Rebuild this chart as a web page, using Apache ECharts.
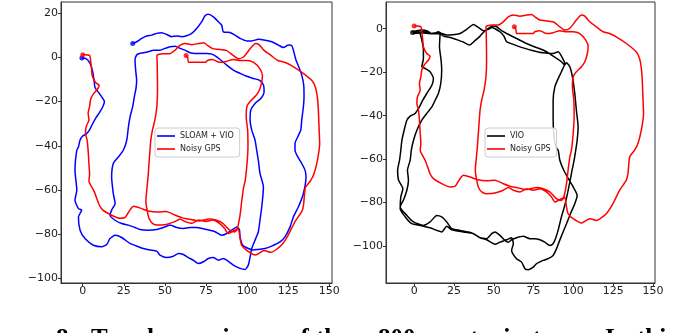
<!DOCTYPE html>
<html>
<head>
<meta charset="utf-8">
<script src="https://cdn.jsdelivr.net/npm/echarts@6/dist/echarts.min.js"></script>
<style>
  html, body { margin: 0; padding: 0; background: #fff; }
  #chart { width: 699px; height: 333px; }
</style>
</head>
<body>
<div id="chart"></div>
<script>
// Noisy GPS track (metres), shared by both panels
const gpsTrack = [
  [0,1.2],[1.7,1.2],[4.2,0.9],[4.8,-1.4],[5.4,-5.2],[5.8,-8.3],[7.9,-11.4],[10,-12.6],[9,-14.4],[6.3,-16.7],
  [4.8,-19],[4.2,-22.1],[3.3,-25.2],[3.8,-28.3],[2.1,-31.3],[1.7,-34.4],[2.7,-37.5],[3.3,-42.1],[3.8,-48.2],[4.2,-52.8],
  [3.8,-55.9],[6.9,-60.5],[10,-66.7],[12.1,-69],[17.3,-71.3],[22.6,-72.8],[25.7,-72.5],[28.8,-69],[30.9,-67.4],[35.1,-68.2],
  [39.3,-69.4],[45.5,-70],[50.8,-69.7],[56,-71.3],[60.2,-72.5],[64.3,-73.1],[70.6,-74],[76.9,-73.1],[81,-73.6],[85.2,-75.1],
  [89.4,-78.2],[92.5,-79],[94.6,-77.4],[95.7,-82],[96.7,-85.1],[99.9,-87.4],[105.1,-89.4],[110.3,-87.4],[114.5,-88.2],[120.7,-85.1],
  [124.9,-80.5],[129.1,-74.3],[133.3,-69.7],[134.3,-66.7],[135.4,-59],[138.5,-55.9],[140.6,-52.8],[142.7,-46.7],[144.1,-39],[143.7,-31.3],
  [143.3,-23.7],[142.7,-18],[141.6,-13.7],[139.5,-10.6],[133.3,-6.8],[127,-3.7],[122.8,-2.2],[118.7,-1.4],[114.5,0.9],[110.3,3.2],
  [107.2,5.8],[105.1,6.3],[101.9,4],[97.8,0.2],[94.6,-0.6],[91.5,0.9],[87.3,3.2],[82.1,3.7],[79,4],[75.8,5.5],
  [73.7,6.6],[70.6,6.3],[66.4,5.8],[62.3,6.3],[59.1,5.5],[56,3.2],[52.9,1.7],[48.7,1.7],[45.1,0.9],[45.3,-3],
  [45.5,-14.4],[45.1,-22.1],[43.9,-28.3],[42.4,-32.9],[41.4,-37.5],[40.9,-42.1],[40.3,-48.2],[39.7,-54.4],[38.9,-60.5],[38.4,-65.1],
  [39.3,-69.7],[40.3,-72.8],[42.4,-75.1],[45.5,-75.9],[50.8,-75.6],[56,-74.3],[59.1,-73.1],[62.3,-74.3],[66.4,-75.1],[70.6,-73.6],
  [74.8,-74.3],[79,-73.6],[83.1,-75.1],[86.3,-77.4],[88.4,-79.7],[91.5,-78.6],[94,-77.4],[95.7,-71.3],[96.7,-65.1],[97.8,-59],
  [98.8,-55.9],[99.9,-48.2],[100.5,-40.6],[100.3,-32.9],[99.4,-26.7],[99.9,-22.1],[101.9,-19.8],[105.1,-17.5],[107.2,-15.2],[108.6,-12.1],
  [109.3,-8.3],[107.8,-5.2],[104,-2.2],[99.9,-1.4],[95.7,-1.4],[91.5,-0.9],[87.3,-1.8],[83.1,-2.2],[79,-0.9],[75.8,-1.4],
  [74.8,-2.2],[70.6,-2.2],[66.4,-2.2],[64.3,-2.2],[63.9,-0.3],[62.9,0.9]
];

// SLOAM + VIO estimate (left panel)
const sloamTrack = [
  [-0.5,-0.3],[2,-0.5],[4.5,-2.7],[6.1,-6.5],[6.9,-10.3],[7.5,-13.6],[10.1,-16.3],[12.6,-19],[13.2,-20.1],[12.2,-22.3],
  [10.1,-25.1],[8.1,-27.2],[6.1,-29.9],[4.1,-32.9],[2,-34.7],[0,-35.6],[-1.6,-37.4],[-2.6,-40.5],[-3.6,-42],[-4.7,-51],
  [-3.6,-60.1],[-4.7,-64.6],[-2.6,-68.4],[-0.6,-69.1],[-2.6,-72.2],[-1.6,-78.2],[1.4,-82],[6.5,-85],[11.6,-85.7],[14.6,-84.7],
  [16.6,-82],[19.7,-80.5],[23.7,-81.5],[28.8,-84.2],[33.9,-85.7],[36.9,-86.5],[40.9,-87.2],[45,-87.7],[47,-89.5],[51.1,-90.6],
  [55.1,-90],[58.2,-88.8],[61.2,-89.2],[64.3,-90.6],[67.3,-91.8],[70.3,-93.3],[73.4,-92.5],[76.4,-91],[79.5,-90.6],[82.5,-91.8],
  [85.5,-91],[87.6,-91.8],[91.6,-94],[95.7,-95.5],[98.7,-96],[100.7,-94],[101.8,-90.3],[102.8,-86.5],[104.8,-82.7],[106.8,-78.9],
  [107.8,-73.7],[108.9,-67.6],[109.9,-58.6],[107.8,-52.5],[106.8,-46.5],[105.8,-42],[104.8,-37.4],[102.8,-32.9],[101.8,-28.4],[102.2,-23.8],
  [104.8,-20.8],[108.3,-18.6],[110.3,-15.5],[109.9,-12.5],[107.4,-10.3],[103.8,-9.5],[99.7,-8.5],[95.7,-7.2],[91.6,-5.7],[87.6,-3.5],
  [84.5,-1.5],[81.5,0.3],[78.5,1.5],[75.4,1.8],[71.4,1.8],[68.3,1.8],[65.3,2.1],[62.2,3.3],[59.2,4.1],[56.2,5.1],
  [53.1,4.8],[50.1,4.1],[47,3.3],[43,3.3],[39.9,2.6],[36.9,2.1],[34.5,1.8],[32.8,1.1],[31.8,-1.2],[32.2,-5.7],
  [32.8,-10.3],[32.4,-14],[31.4,-17.8],[30.4,-22.3],[28.8,-26.9],[27.8,-31.4],[26.8,-37.4],[24.7,-42],[21.7,-45],[18.6,-48],
  [17.6,-54],[18.6,-61.6],[19.7,-66.1],[17.6,-69.1],[16.6,-71.4],[19.7,-73.7],[23.7,-75.2],[27.8,-75.9],[31.8,-77],[34.9,-77.9],
  [39.9,-78.2],[45,-77.9],[49.1,-77],[53.1,-75.9],[57.2,-77],[61.2,-77.4],[65.3,-77],[69.3,-77],[75.4,-77.9],[80.5,-78.9],
  [84.5,-80.5],[87.6,-79.7],[90.6,-78.2],[93.7,-76.7],[95.3,-77.9],[95.7,-81.2],[97.3,-85],[100.7,-86.5],[103.8,-87.2],[106.8,-86.9],
  [110.9,-86.5],[114.9,-85.4],[120,-83.5],[123,-81.2],[126.1,-76.7],[128.1,-72.2],[131.2,-67.6],[134.2,-61.6],[135.8,-54],[135.2,-51],
  [133.2,-48],[130.8,-45],[129.1,-42],[129.1,-38.9],[130.8,-35.9],[132.6,-32.9],[133.2,-28.4],[134.2,-22.3],[134.6,-17.8],[134.4,-12.5],
  [133.2,-8],[131.8,-5],[129.7,-1.2],[128.1,3.3],[127.1,5.4],[125.1,5.6],[122,4.5],[119,5.6],[114.9,7.1],[110.9,7.8],
  [106.8,8.2],[102.8,7.5],[99.7,7.5],[95.7,8.6],[92.6,10.1],[89.6,11.3],[85.5,11.6],[84.5,14.6],[81.9,16.6],[79.5,18.4],
  [76.4,19.5],[74.4,18.9],[72.4,16.2],[69.3,13.1],[66.3,10.9],[63.2,9.8],[60.2,9.4],[57.2,9.7],[54.1,9.4],[51.1,10.4],
  [48,11.2],[45,10.9],[42,10.1],[38.9,9.7],[35.9,8.6],[32.8,7.1],[30.4,6.3]
];

// VIO-only estimate (right panel), two laps
const vioTrack = [
  [-1,-1.7],[5.8,-1.4],[12.1,-2.2],[15.2,-1.4],[17.3,-2.2],[20.5,-2.9],[25.7,-2.6],[28.8,-2.2],[33,-0.3],[37.2,2],
  [40.3,0.6],[43.5,-0.9],[46.6,-0.3],[48.7,0.6],[50.8,0],[53.9,-1.4],[56.4,-3.4],[58.1,-6],[62.3,-7.2],[68.5,-8.8],
  [74.8,-10.1],[81.1,-11.1],[87.3,-11.4],[90.5,-10.6],[92.5,-12.6],[94.6,-16],[92.5,-19.8],[90.5,-22.9],[88.4,-26.7],[87.3,-32.9],
  [87.3,-40.6],[87.7,-48.2],[89,-54.4],[90.5,-55.9],[91.5,-60.5],[94,-65.1],[97.4,-69.7],[99.9,-72.8],[102.4,-76.7],[100.9,-80.5],
  [98.2,-85.1],[95.7,-89.7],[93.1,-94.3],[91,-98.2],[89.4,-101.3],[87.3,-104.3],[84.2,-105.8],[81.1,-106.6],[76.9,-108.1],[74.8,-109.7],
  [71.7,-110.9],[69.6,-110.4],[67.5,-107.4],[64.3,-105.8],[61.2,-102],[62.3,-98.9],[61.2,-96.2],[58.1,-97.1],[53.9,-98.2],[50.8,-99.2],
  [45.5,-97.1],[41.4,-96.2],[37.2,-94.3],[30.9,-93.5],[23.6,-92.5],[20.5,-90.9],[17.3,-93.5],[14.2,-92.8],[10,-91.6],[3.8,-90.5],
  [-1.5,-89.7],[-5.6,-86.6],[-8.8,-82.8],[-8.4,-77.4],[-7.1,-73.6],[-9.8,-69.7],[-10.4,-65.1],[-9.2,-60.5],[-8.4,-55.9],[-7.7,-51.3],
  [-6.3,-46.7],[-4.6,-42.1],[-2.5,-40.2],[0.6,-39],[3.3,-36],[5.4,-32.9],[7.9,-29.8],[11.1,-26],[12.1,-22.9],[10,-19.8],
  [6.9,-18.3],[4.8,-17.5],[5.8,-13.7],[5.8,-9.8],[4.8,-5.2],[3.3,-1.8],[-1,-1.4],[4.8,-0.6],[7.9,-0.9],[11.1,-2.2],
  [14.2,-1.8],[16.3,-2.2],[18.4,-3.4],[22.6,-4],[26.3,-4.9],[30.5,-6],[34.7,-7.5],[38.2,-5.5],[41.4,-3.4],[43.9,-1.4],
  [46.6,0.2],[49.7,1.2],[51.8,0.9],[54.9,-0.9],[58.1,-2.2],[64.3,-4.5],[72.7,-7.5],[81.1,-9.8],[87.3,-12.6],[92.5,-15.2],
  [94.6,-16.7],[95.7,-15.7],[97.8,-17.5],[99.4,-22.1],[100.9,-29.8],[101.9,-37.5],[103,-45.2],[102.4,-51.3],[101.5,-55.9],[100.5,-60.5],
  [99.2,-65.1],[97.8,-70.5],[96.3,-75.9],[94.6,-81.3],[92.5,-86.6],[90.7,-92],[89,-96.2],[87.3,-98.9],[85.2,-99.7],[82.1,-98.2],
  [79,-97.1],[75.8,-96.6],[72.7,-96.6],[68.5,-95.5],[64.3,-96.2],[61.2,-97.1],[59.1,-98.2],[57,-97.4],[53.9,-95.1],[50.8,-93.5],
  [48.7,-94.3],[45.5,-96.6],[41.4,-96.2],[37.2,-94.3],[34,-93.5],[28.8,-92.8],[23.6,-92],[20.5,-88.9],[17.3,-86.6],[14.2,-85.9],
  [10,-88.9],[5.8,-90.5],[-0.4,-88.9],[-4.6,-85.9],[-8.8,-82],[-6.7,-78.8],[-4.6,-74.3],[-3.6,-69.7],[-4.2,-65.1],[-2.5,-60.5],
  [-1.8,-55.9],[-0.4,-51.3],[1.7,-46.7],[4.8,-42.1],[7.9,-39],[11.1,-36],[13.2,-32.9],[15.2,-29.8],[16.7,-25.2],[17.3,-19],
  [16.9,-14.4],[15.9,-8.3],[16.3,-2.2],[12,-2.3],[6,-2],[-0.8,-2.2]
];

// Axis tick positions
const xTicks = [0, 25, 50, 75, 100, 125, 150];
const leftYTicks = [-100, -80, -60, -40, -20, 0, 20];
const rightYTicks = [-100, -80, -60, -40, -20, 0];

// Caption words with their left edges (justified line)
const captionWords = ['8.', 'Top-down', 'view', 'of', 'the', '800', 'm', 'trajectory.', 'In', 'this'];
const captionX = [56, 91, 210, 288, 316, 378, 425, 470, 605, 637];

const BLUE = '#0000ff', RED = '#ff0000', BLACK = '#000000';
const fmt = v => (v < 0 ? '\u2212' + Math.abs(v) : String(v));

function xAxisCfg(grid, min, max) {
  return {
    gridIndex: grid, type: 'value', min: min, max: max,
    axisLine: { show: true, onZero: false, lineStyle: { color: '#333', width: 1 } },
    axisTick: { show: true, customValues: xTicks, length: 3, lineStyle: { color: '#333' } },
    axisLabel: { customValues: xTicks, margin: 3, fontSize: 11, color: '#222', fontFamily: 'DejaVu Sans', formatter: fmt },
    splitLine: { show: false }
  };
}
function yAxisCfg(grid, min, max, ticks) {
  return {
    gridIndex: grid, type: 'value', min: min, max: max,
    axisLine: { show: true, onZero: false, lineStyle: { color: '#333', width: 1 } },
    axisTick: { show: true, customValues: ticks, length: 3, lineStyle: { color: '#333' } },
    axisLabel: { customValues: ticks, margin: 3, fontSize: 11, color: '#222', fontFamily: 'DejaVu Sans', formatter: fmt },
    splitLine: { show: false }
  };
}
function track(name, data, color, xi) {
  return {
    type: 'line', name: name, data: data, xAxisIndex: xi, yAxisIndex: xi,
    symbol: 'none', smooth: 0.2, lineStyle: { color: color, width: 1.5 },
    itemStyle: { color: color }, silent: true
  };
}
function ends(name, pts, color, xi) {
  return {
    type: 'scatter', name: name, data: pts, xAxisIndex: xi, yAxisIndex: xi,
    symbol: 'circle', symbolSize: 5, itemStyle: { color: color }, z: 5, silent: true
  };
}
function legendCfg(names, left) {
  return {
    data: names, orient: 'vertical', left: left, top: 128,
    icon: 'rect', itemWidth: 18, itemHeight: 1.6, itemGap: 3, padding: [3, 6, 3, 2],
    backgroundColor: 'rgba(255,255,255,0.85)', borderColor: '#cccccc', borderWidth: 1, borderRadius: 3,
    textStyle: { fontSize: 8, fontFamily: 'DejaVu Sans', color: '#222', lineHeight: 10 },
    selectedMode: false
  };
}

const chart = echarts.init(document.getElementById('chart'), null, { renderer: 'canvas' });
chart.setOption({
  animation: false,
  backgroundColor: '#ffffff',
  grid: [
    { left: 61, top: 2, width: 271, height: 281, show: true, borderColor: '#333', borderWidth: 1 },
    { left: 386, top: 2, width: 269, height: 281, show: true, borderColor: '#333', borderWidth: 1 }
  ],
  xAxis: [xAxisCfg(0, -13.2, 151.6), xAxisCfg(1, -17.7, 151.3)],
  yAxis: [yAxisCfg(0, -102.1, 25.1, leftYTicks), yAxisCfg(1, -117, 12.3, rightYTicks)],
  legend: [legendCfg(['SLOAM + VIO', 'Noisy GPS'], 155), legendCfg(['VIO', 'Noisy GPS'], 485)],
  series: [
    track('SLOAM + VIO', sloamTrack, BLUE, 0),
    ends('sloam-ends', [sloamTrack[0], sloamTrack[sloamTrack.length - 1]], BLUE, 0),
    track('Noisy GPS', gpsTrack, RED, 0),
    ends('gps-ends-left', [gpsTrack[0], gpsTrack[gpsTrack.length - 1]], RED, 0),
    track('VIO', vioTrack, BLACK, 1),
    ends('vio-ends', [vioTrack[0]], BLACK, 1),
    track('Noisy GPS', gpsTrack, RED, 1),
    ends('gps-ends-right', [gpsTrack[0], gpsTrack[gpsTrack.length - 1]], RED, 1)
  ],
  graphic: captionWords.map((w, i) => ({
    type: 'text', left: captionX[i], top: 327, silent: true,
    style: { text: w, font: 'bold 25px "Liberation Serif", serif', fill: '#000' }
  }))
});
</script>
</body>
</html>
